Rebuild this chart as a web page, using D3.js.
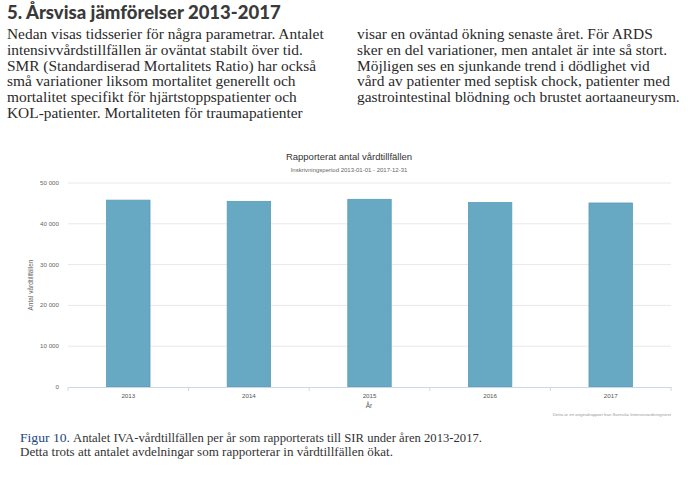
<html>
<head>
<meta charset="utf-8">
<style>
  body { margin: 0; background: #fff; }
</style>
</head>
<body>
<script src="https://d3js.org/d3.v7.min.js"></script>
<div id="main"></div>
<script>
    // data
    var years = ["2013", "2014", "2015", "2016", "2017"];
    var admissions = [45800, 45500, 46000, 45200, 45100];
    var yTicks = [0, 10000, 20000, 30000, 40000, 50000];

    var leftText = [
        "Nedan visas tidsserier för några parametrar. Antalet",
        "intensivvårdstillfällen är oväntat stabilt över tid.",
        "SMR (Standardiserad Mortalitets Ratio) har också",
        "små variationer liksom mortalitet generellt och",
        "mortalitet specifikt för hjärtstoppspatienter och",
        "KOL-patienter. Mortaliteten för traumapatienter"
    ];
    var rightText = [
        "visar en oväntad ökning senaste året. För ARDS",
        "sker en del variationer, men antalet är inte så stort.",
        "Möjligen ses en sjunkande trend i dödlighet vid",
        "vård av patienter med septisk chock, patienter med",
        "gastrointestinal blödning och brustet aortaaneurysm."
    ];

    var W = 690, H = 480;
    var svg = d3.select("#main").append("svg")
        .attr("width", W)
        .attr("height", H);

    // heading
    svg.append("text")
        .attr("x", 7).attr("y", 18.5)
        .style("font-family", "Lato, 'Open Sans', sans-serif")
        .style("font-weight", "900")
        .style("font-size", "18.5px")
        .style("fill", "#3a3a3a")
        .text("5. Årsvisa jämförelser 2013-2017");

    // two text columns
    function column(lines, x0) {
        svg.append("g").selectAll("text")
            .data(lines)
            .enter().append("text")
            .attr("x", x0)
            .attr("y", function (d, i) { return 39 + i * 15.8; })
            .style("font-family", "'Liberation Serif', serif")
            .style("font-size", "15.4px")
            .style("fill", "#2a2a2a")
            .text(function (d) { return d; });
    }
    column(leftText, 7);
    column(rightText, 357);

    // chart area (names avoid window.top etc.)
    var plotL = 68, plotR = 671, plotT = 183, plotB = 387;

    var x = d3.scaleBand().domain(years).range([plotL, plotR]).padding(0);
    var y = d3.scaleLinear().domain([0, 50000]).range([plotB, plotT]);
    var barW = x.bandwidth() * 0.36;

    // titles
    svg.append("text")
        .attr("x", 349).attr("y", 160)
        .attr("text-anchor", "middle")
        .style("font-family", "'Liberation Sans', Arial, sans-serif")
        .style("font-size", "9.5px")
        .style("fill", "#333")
        .text("Rapporterat antal vårdtillfällen");
    svg.append("text")
        .attr("x", 349).attr("y", 171.5)
        .attr("text-anchor", "middle")
        .style("font-family", "'Liberation Sans', Arial, sans-serif")
        .style("font-size", "6px")
        .style("fill", "#666")
        .text("Inskrivningsperiod 2013-01-01 - 2017-12-31");

    // grid lines
    svg.append("g").selectAll("line")
        .data(yTicks.slice(1))
        .enter().append("line")
        .attr("x1", plotL).attr("x2", plotR)
        .attr("y1", function (d) { return y(d); })
        .attr("y2", function (d) { return y(d); })
        .attr("stroke", "#e8e8e8")
        .attr("stroke-width", 1);

    // y axis labels
    var fmt = function (d) { return d3.format(",")(d).replace(/,/g, " "); };
    svg.append("g").selectAll("text")
        .data(yTicks)
        .enter().append("text")
        .attr("x", 59)
        .attr("y", function (d) { return y(d) + 2; })
        .attr("text-anchor", "end")
        .style("font-family", "'Liberation Sans', Arial, sans-serif")
        .style("font-size", "6.2px")
        .style("fill", "#666")
        .text(fmt);

    svg.append("text")
        .attr("transform", "translate(33," + ((plotT + plotB) / 2) + ") rotate(-90)")
        .attr("text-anchor", "middle")
        .style("font-family", "'Liberation Sans', Arial, sans-serif")
        .style("font-size", "6.5px")
        .style("fill", "#666")
        .text("Antal vårdtillfällen");

    // bars
    svg.append("g").selectAll("rect")
        .data(admissions)
        .enter().append("rect")
        .attr("x", function (d, i) { return x(years[i]) + (x.bandwidth() - barW) / 2; })
        .attr("y", function (d) { return y(d); })
        .attr("width", barW)
        .attr("height", function (d) { return plotB - y(d); })
        .style("fill", "#67a8c2")
        .style("stroke", "#5a9cb8")
        .style("stroke-width", 0.8);

    // x axis
    var xAxis = svg.append("g")
        .attr("transform", "translate(0," + plotB + ")")
        .call(d3.axisBottom(x).tickSize(0).tickPadding(7));
    xAxis.select(".domain").attr("stroke", "#ccd6eb");
    xAxis.selectAll("text")
        .style("font-family", "'Liberation Sans', Arial, sans-serif")
        .style("font-size", "6.2px")
        .style("fill", "#555");
    // tick marks on category boundaries
    svg.append("g").selectAll("line")
        .data(years.concat(["end"]))
        .enter().append("line")
        .attr("x1", function (d, i) { return plotL + i * x.step(); })
        .attr("x2", function (d, i) { return plotL + i * x.step(); })
        .attr("y1", plotB).attr("y2", plotB + 4)
        .attr("stroke", "#ccd6eb");

    svg.append("text")
        .attr("x", 369).attr("y", 408)
        .attr("text-anchor", "middle")
        .style("font-family", "'Liberation Sans', Arial, sans-serif")
        .style("font-size", "6.5px")
        .style("fill", "#555")
        .text("År");

    svg.append("text")
        .attr("x", 671).attr("y", 416)
        .attr("text-anchor", "end")
        .style("font-family", "'Liberation Sans', Arial, sans-serif")
        .style("font-size", "4.3px")
        .style("fill", "#999")
        .text("Detta är en originalrapport från Svenska Intensivvårdsregistret");

    // caption (condensed serif in the original, so squeeze with textLength)
    function caption(str, x0, y0, len, color) {
        svg.append("text")
            .attr("x", x0).attr("y", y0)
            .attr("textLength", len)
            .attr("lengthAdjust", "spacingAndGlyphs")
            .style("font-family", "'Liberation Serif', serif")
            .style("font-size", "13.5px")
            .style("fill", color)
            .text(str);
    }
    caption("Figur 10.", 20, 442, 50, "#24467e");
    caption("Antalet IVA-vårdtillfällen per år som rapporterats till SIR under åren 2013-2017.", 73, 442, 409, "#333");
    caption("Detta trots att antalet avdelningar som rapporterar in vårdtillfällen ökat.", 20, 456, 373, "#333");
</script>
</body>
</html>
